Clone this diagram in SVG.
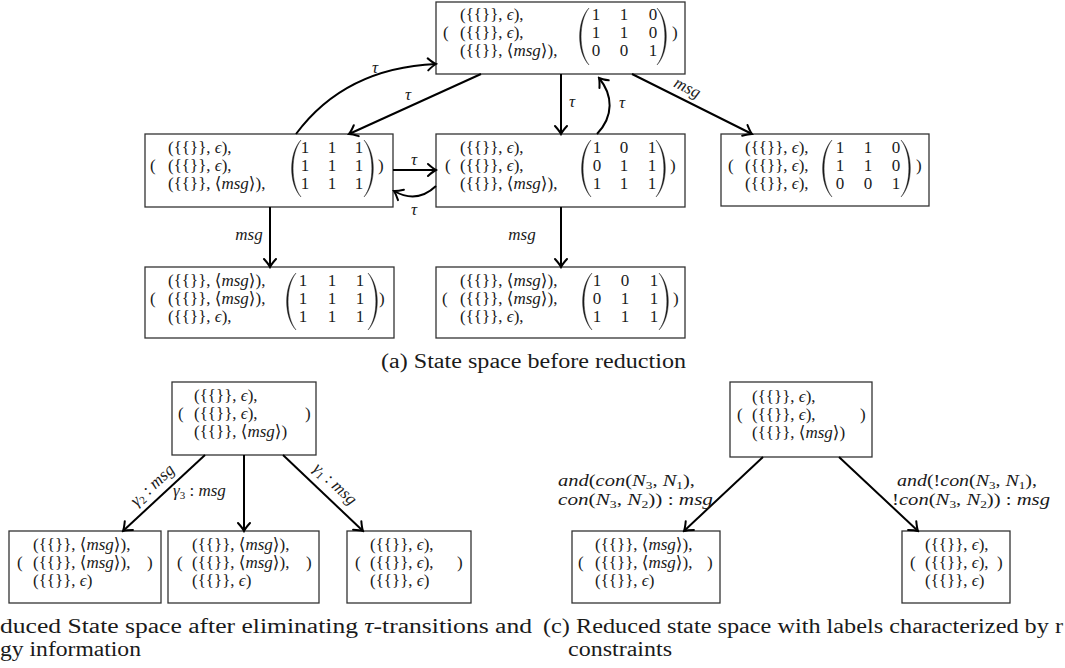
<svg xmlns="http://www.w3.org/2000/svg" xmlns:xlink="http://www.w3.org/1999/xlink" width="1065" height="668" viewBox="0 0 1065 668">
<style>
.box{fill:#fff;stroke:#333;stroke-width:1.3}
text{font-family:"Liberation Serif","DejaVu Serif",serif;fill:#1a1a1a}
.t{font-size:17px}
.m{font-size:17px;text-anchor:middle}
.i{font-style:italic}
.sb{font-size:11px}
.e{stroke:#000;stroke-width:2;fill:none;marker-end:url(#ah)}
.lbl{font-size:17px;text-anchor:middle}
.lbs{font-size:17px}
.cap{font-size:20px}
.par{fill:#1a1a1a;stroke:#1a1a1a;stroke-width:0.4}
</style>
<defs>
<marker id="ah" viewBox="-10 -8 12 16" refX="0" refY="0" markerWidth="12" markerHeight="16" orient="auto" markerUnits="userSpaceOnUse">
<path d="M-8,-6 Q-3,-1.5 0,0 Q-3,1.5 -8,6" fill="none" stroke="#000" stroke-width="2" stroke-linecap="round"/>
</marker>
<path id="lp" class="par" d="M10,6 C-2.5,19 -2.5,50 10,63 C-0.5,50 -0.5,19 10,6 Z"/>
<path id="rp" class="par" d="M0,6 C12.5,19 12.5,50 0,63 C10.5,50 10.5,19 0,6 Z"/>
</defs>
<rect width="1065" height="668" fill="#fff"/>

<g id="n-top">
<rect class="box" x="436" y="2" width="249" height="72"/>
<text class="t" x="443" y="38">(</text>
<text class="t" x="460" y="20">({{}}, <tspan class="i">ϵ</tspan>),</text>
<text class="t" x="460" y="38">({{}}, <tspan class="i">ϵ</tspan>),</text>
<text class="t" x="460" y="56">({{}}, ⟨<tspan class="i">msg</tspan>⟩),</text>
<use xlink:href="#lp" x="579" y="2"/><use xlink:href="#rp" x="657" y="2"/>
<text class="m" x="596" y="20">1</text><text class="m" x="624" y="20">1</text><text class="m" x="653" y="20">0</text>
<text class="m" x="596" y="38">1</text><text class="m" x="624" y="38">1</text><text class="m" x="653" y="38">0</text>
<text class="m" x="596" y="56">0</text><text class="m" x="624" y="56">0</text><text class="m" x="653" y="56">1</text>
<text class="t" x="672" y="38">)</text>
</g>

<g id="n-midleft">
<rect class="box" x="145" y="134" width="248" height="73"/>
<text class="t" x="150" y="171">(</text>
<text class="t" x="168" y="153">({{}}, <tspan class="i">ϵ</tspan>),</text>
<text class="t" x="168" y="171">({{}}, <tspan class="i">ϵ</tspan>),</text>
<text class="t" x="168" y="189">({{}}, ⟨<tspan class="i">msg</tspan>⟩),</text>
<use xlink:href="#lp" x="291" y="134"/><use xlink:href="#rp" x="364" y="134"/>
<text class="m" x="305" y="153">1</text><text class="m" x="332" y="153">1</text><text class="m" x="359" y="153">1</text>
<text class="m" x="305" y="171">1</text><text class="m" x="332" y="171">1</text><text class="m" x="359" y="171">1</text>
<text class="m" x="305" y="189">1</text><text class="m" x="332" y="189">1</text><text class="m" x="359" y="189">1</text>
<text class="t" x="378" y="171">)</text>
</g>

<g id="n-mid">
<rect class="box" x="436" y="134" width="249" height="73"/>
<text class="t" x="445" y="171">(</text>
<text class="t" x="460" y="153">({{}}, <tspan class="i">ϵ</tspan>),</text>
<text class="t" x="460" y="171">({{}}, <tspan class="i">ϵ</tspan>),</text>
<text class="t" x="460" y="189">({{}}, ⟨<tspan class="i">msg</tspan>⟩),</text>
<use xlink:href="#lp" x="581" y="134"/><use xlink:href="#rp" x="656" y="134"/>
<text class="m" x="597" y="153">1</text><text class="m" x="624" y="153">0</text><text class="m" x="652" y="153">1</text>
<text class="m" x="597" y="171">0</text><text class="m" x="624" y="171">1</text><text class="m" x="652" y="171">1</text>
<text class="m" x="597" y="189">1</text><text class="m" x="624" y="189">1</text><text class="m" x="652" y="189">1</text>
<text class="t" x="670" y="171">)</text>
</g>

<g id="n-right">
<rect class="box" x="721" y="134" width="208" height="72"/>
<text class="t" x="728" y="171">(</text>
<text class="t" x="745" y="153">({{}}, <tspan class="i">ϵ</tspan>),</text>
<text class="t" x="745" y="171">({{}}, <tspan class="i">ϵ</tspan>),</text>
<text class="t" x="745" y="189">({{}}, <tspan class="i">ϵ</tspan>),</text>
<use xlink:href="#lp" x="822" y="134"/><use xlink:href="#rp" x="901" y="134"/>
<text class="m" x="840" y="153">1</text><text class="m" x="868" y="153">1</text><text class="m" x="896" y="153">0</text>
<text class="m" x="840" y="171">1</text><text class="m" x="868" y="171">1</text><text class="m" x="896" y="171">0</text>
<text class="m" x="840" y="189">0</text><text class="m" x="868" y="189">0</text><text class="m" x="896" y="189">1</text>
<text class="t" x="916" y="171">)</text>
</g>

<g id="n-botleft">
<rect class="box" x="145" y="267" width="249" height="71"/>
<text class="t" x="150" y="304">(</text>
<text class="t" x="168" y="286">({{}}, ⟨<tspan class="i">msg</tspan>⟩),</text>
<text class="t" x="168" y="304">({{}}, ⟨<tspan class="i">msg</tspan>⟩),</text>
<text class="t" x="168" y="322">({{}}, <tspan class="i">ϵ</tspan>),</text>
<use xlink:href="#lp" x="286" y="267"/><use xlink:href="#rp" x="368" y="267"/>
<text class="m" x="303" y="286">1</text><text class="m" x="332" y="286">1</text><text class="m" x="360" y="286">1</text>
<text class="m" x="303" y="304">1</text><text class="m" x="332" y="304">1</text><text class="m" x="360" y="304">1</text>
<text class="m" x="303" y="322">1</text><text class="m" x="332" y="322">1</text><text class="m" x="360" y="322">1</text>
<text class="t" x="379" y="304">)</text>
</g>

<g id="n-botmid">
<rect class="box" x="436" y="267" width="249" height="71"/>
<text class="t" x="442" y="304">(</text>
<text class="t" x="460" y="286">({{}}, ⟨<tspan class="i">msg</tspan>⟩),</text>
<text class="t" x="460" y="304">({{}}, ⟨<tspan class="i">msg</tspan>⟩),</text>
<text class="t" x="460" y="322">({{}}, <tspan class="i">ϵ</tspan>),</text>
<use xlink:href="#lp" x="582" y="267"/><use xlink:href="#rp" x="659" y="267"/>
<text class="m" x="597" y="286">1</text><text class="m" x="625" y="286">0</text><text class="m" x="654" y="286">1</text>
<text class="m" x="597" y="304">0</text><text class="m" x="625" y="304">1</text><text class="m" x="654" y="304">1</text>
<text class="m" x="597" y="322">1</text><text class="m" x="625" y="322">1</text><text class="m" x="654" y="322">1</text>
<text class="t" x="673" y="304">)</text>
</g>

<g id="b-top">
<rect class="box" x="172" y="382" width="144" height="73"/>
<text class="t" x="178" y="419">(</text>
<text class="t" x="194" y="401">({{}}, <tspan class="i">ϵ</tspan>),</text>
<text class="t" x="194" y="419">({{}}, <tspan class="i">ϵ</tspan>),</text>
<text class="t" x="194" y="437">({{}}, ⟨<tspan class="i">msg</tspan>⟩)</text>
<text class="t" x="305" y="419">)</text>
</g>
<g id="b-1">
<rect class="box" x="9" y="531" width="152" height="72"/>
<text class="t" x="17" y="568">(</text>
<text class="t" x="33" y="550">({{}}, ⟨<tspan class="i">msg</tspan>⟩),</text>
<text class="t" x="33" y="568">({{}}, ⟨<tspan class="i">msg</tspan>⟩),</text>
<text class="t" x="33" y="586">({{}}, <tspan class="i">ϵ</tspan>)</text>
<text class="t" x="147" y="568">)</text>
</g>
<g id="b-2">
<rect class="box" x="168" y="531" width="151" height="72"/>
<text class="t" x="177" y="568">(</text>
<text class="t" x="192" y="550">({{}}, ⟨<tspan class="i">msg</tspan>⟩),</text>
<text class="t" x="192" y="568">({{}}, ⟨<tspan class="i">msg</tspan>⟩),</text>
<text class="t" x="192" y="586">({{}}, <tspan class="i">ϵ</tspan>)</text>
<text class="t" x="306" y="568">)</text>
</g>
<g id="b-3">
<rect class="box" x="347" y="531" width="124" height="72"/>
<text class="t" x="355" y="568">(</text>
<text class="t" x="370" y="550">({{}}, <tspan class="i">ϵ</tspan>),</text>
<text class="t" x="370" y="568">({{}}, <tspan class="i">ϵ</tspan>),</text>
<text class="t" x="370" y="586">({{}}, <tspan class="i">ϵ</tspan>)</text>
<text class="t" x="457" y="568">)</text>
</g>

<g id="c-top">
<rect class="box" x="730" y="382" width="142" height="75"/>
<text class="t" x="737" y="420">(</text>
<text class="t" x="752" y="402">({{}}, <tspan class="i">ϵ</tspan>),</text>
<text class="t" x="752" y="420">({{}}, <tspan class="i">ϵ</tspan>),</text>
<text class="t" x="752" y="438">({{}}, ⟨<tspan class="i">msg</tspan>⟩)</text>
<text class="t" x="860" y="420">)</text>
</g>
<g id="c-1">
<rect class="box" x="572" y="531" width="148" height="72"/>
<text class="t" x="578" y="568">(</text>
<text class="t" x="595" y="550">({{}}, ⟨<tspan class="i">msg</tspan>⟩),</text>
<text class="t" x="595" y="568">({{}}, ⟨<tspan class="i">msg</tspan>⟩),</text>
<text class="t" x="595" y="586">({{}}, <tspan class="i">ϵ</tspan>)</text>
<text class="t" x="707" y="568">)</text>
</g>
<g id="c-2">
<rect class="box" x="902" y="531" width="108" height="72"/>
<text class="t" x="910" y="568">(</text>
<text class="t" x="925" y="550">({{}}, <tspan class="i">ϵ</tspan>),</text>
<text class="t" x="925" y="568">({{}}, <tspan class="i">ϵ</tspan>),</text>
<text class="t" x="925" y="586">({{}}, <tspan class="i">ϵ</tspan>)</text>
<text class="t" x="997" y="568">)</text>
</g>

<g id="edges">
<path class="e" d="M481,74 L349,134"/>
<text class="lbl i" x="408" y="100">τ</text>
<path class="e" d="M296,134 Q345,68 436,64"/>
<text class="lbl i" x="375" y="73">τ</text>
<path class="e" d="M561,74 L561,134"/>
<text class="lbl i" x="572" y="107">τ</text>
<path class="e" d="M597,134 C614,116 613,95 599,78"/>
<text class="lbl i" x="622" y="108">τ</text>
<path class="e" d="M632,74 L752,134"/>
<text class="lbl i" transform="translate(685,92.5) rotate(26.6)">msg</text>
<path class="e" d="M393,170 L436,170"/>
<text class="lbl i" x="414" y="165">τ</text>
<path class="e" d="M436,186 Q417,204 394,191"/>
<text class="lbl i" x="414" y="215">τ</text>
<path class="e" d="M270,207 L270,267"/>
<text class="lbl i" x="249" y="240">msg</text>
<path class="e" d="M561,207 L561,267"/>
<text class="lbl i" x="522" y="240">msg</text>

<path class="e" d="M205,455 L123,531"/>
<text class="lbl" transform="translate(156,489) rotate(-42.8)"><tspan class="i">γ</tspan><tspan class="sb" dy="3">2</tspan><tspan dy="-3"> : </tspan><tspan class="i">msg</tspan></text>
<path class="e" d="M244,455 L244,531"/>
<text class="lbs" x="173" y="496"><tspan class="i">γ</tspan><tspan class="sb" dy="3">3</tspan><tspan dy="-3"> : </tspan><tspan class="i">msg</tspan></text>
<path class="e" d="M283,455 L363,531"/>
<text class="lbl" transform="translate(331.5,487.6) rotate(43.5)"><tspan class="i">γ</tspan><tspan class="sb" dy="3">1</tspan><tspan dy="-3"> : </tspan><tspan class="i">msg</tspan></text>

<path class="e" d="M763,457 L684,531"/>
<text class="lbs" x="558" y="486" textLength="137" lengthAdjust="spacingAndGlyphs"><tspan class="i">and</tspan>(<tspan class="i">con</tspan>(<tspan class="i">N</tspan><tspan class="sb" dy="3">3</tspan><tspan dy="-3">, </tspan><tspan class="i">N</tspan><tspan class="sb" dy="3">1</tspan><tspan dy="-3">),</tspan></text>
<text class="lbs" x="558" y="505" textLength="155" lengthAdjust="spacingAndGlyphs"><tspan class="i">con</tspan>(<tspan class="i">N</tspan><tspan class="sb" dy="3">3</tspan><tspan dy="-3">, </tspan><tspan class="i">N</tspan><tspan class="sb" dy="3">2</tspan><tspan dy="-3">)) : </tspan><tspan class="i">msg</tspan></text>
<path class="e" d="M839,457 L918,531"/>
<text class="lbs" x="897" y="486" textLength="140" lengthAdjust="spacingAndGlyphs"><tspan class="i">and</tspan>(!<tspan class="i">con</tspan>(<tspan class="i">N</tspan><tspan class="sb" dy="3">3</tspan><tspan dy="-3">, </tspan><tspan class="i">N</tspan><tspan class="sb" dy="3">1</tspan><tspan dy="-3">),</tspan></text>
<text class="lbs" x="892" y="505" textLength="158" lengthAdjust="spacingAndGlyphs">!<tspan class="i">con</tspan>(<tspan class="i">N</tspan><tspan class="sb" dy="3">3</tspan><tspan dy="-3">, </tspan><tspan class="i">N</tspan><tspan class="sb" dy="3">2</tspan><tspan dy="-3">)) : </tspan><tspan class="i">msg</tspan></text>
</g>

<g id="captions">
<text class="cap" x="381" y="368" textLength="305" lengthAdjust="spacingAndGlyphs">(a) State space before reduction</text>
<text class="cap" x="0" y="633" textLength="532" lengthAdjust="spacingAndGlyphs">duced State space after eliminating <tspan class="i">τ</tspan>-transitions and</text>
<text class="cap" x="0" y="656" textLength="141" lengthAdjust="spacingAndGlyphs">gy information</text>
<text class="cap" x="543" y="633" textLength="520" lengthAdjust="spacingAndGlyphs">(c) Reduced state space with labels characterized by r</text>
<text class="cap" x="568" y="656" textLength="104" lengthAdjust="spacingAndGlyphs">constraints</text>
</g>
</svg>
